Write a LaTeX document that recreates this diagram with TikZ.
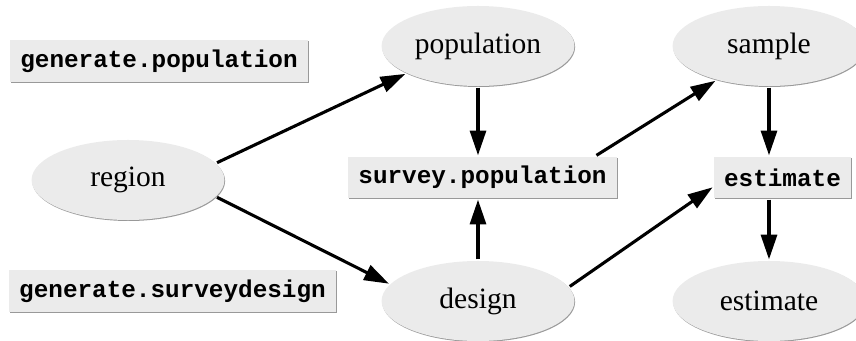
\documentclass[tikz,border=0pt]{standalone}
\usepackage{fontspec}
\setmainfont{Liberation Serif}
\setmonofont{Liberation Mono}
\usepackage{tikz}
\usetikzlibrary{shapes.geometric,arrows.meta,shadows}
\definecolor{nodegray}{HTML}{EBEBEB}

\begin{document}
\begin{tikzpicture}[x=0.025cm,y=0.025cm,->,>={Triangle[length=0.62cm,width=0.4cm]},line width=2.2pt,
      obj/.style={ellipse,fill=nodegray,drop shadow={shadow xshift=0.5pt,shadow yshift=-0.7pt,fill=gray,opacity=0.8},
        minimum width=4.82cm,minimum height=2cm,inner sep=0pt,font=\fontsize{21}{24}\selectfont},
      fun/.style={rectangle,fill=nodegray,drop shadow={shadow xshift=0.7pt,shadow yshift=-0.7pt,fill=gray,opacity=0.8},
        minimum height=1.03cm,inner xsep=0.25cm,inner ysep=0pt,font=\fontsize{17.3}{20}\selectfont\ttfamily\bfseries}]
			\useasboundingbox (0,0) rectangle (856,-341);
			\node[obj] (region) at (128,-180) {region};
			\node[obj] (population) at (478,-46) {population};
			\node[obj] (sample) at (769,-46) {sample};
			\node[obj] (design) at (478,-301) {design};
			\node[obj] (estimate) at (769,-301) {estimate};
			\node[fun] (genpop) at (159,-61) {generate.population};
			\node[fun] (gendesign) at (172.5,-291) {generate.surveydesign};
			\node[fun] (survpop) at (482.5,-177.5) {survey.population};
			\node[fun] (estbox) at (782.5,-177.5) {estimate};
			\path
				(region.11) edge (population.201)
				(region.349) edge (design.169)
				(survpop.11) edge (sample.213)
				(design.9) edge (estbox.188)
				(population.south) edge (population.south |- survpop.north)
				(design.north) edge (design.north |- survpop.south)
				(sample.south) edge (sample.south |- estbox.north)
				(estimate.north |- estbox.south) edge (estimate.north);
		\end{tikzpicture}
\end{document}
